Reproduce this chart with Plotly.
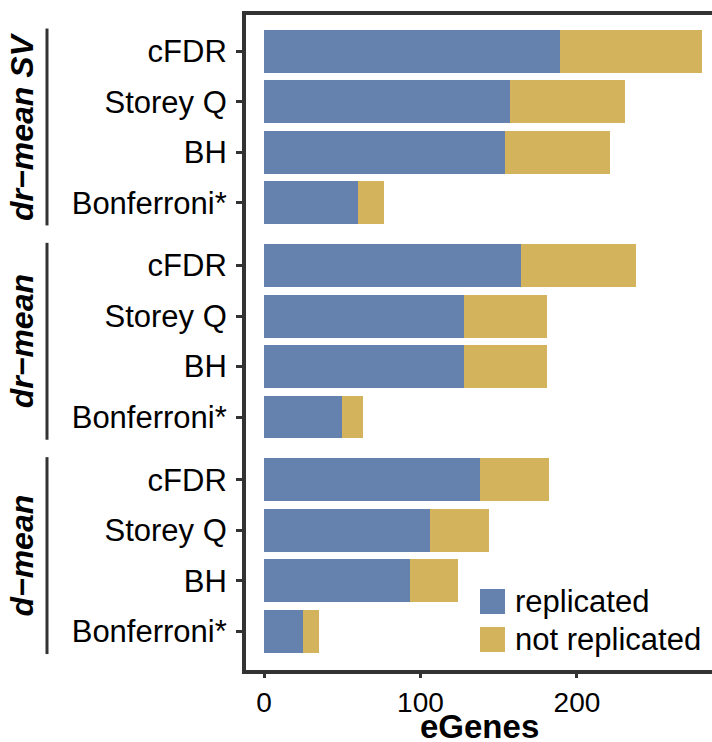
import plotly.graph_objects as go

# eGenes discovered per multiple-testing method, split by replication status
groups = ["dr\u2212mean SV", "dr\u2212mean", "d\u2212mean"]
methods = ["cFDR", "Storey Q", "BH", "Bonferroni*"]
replicated = [
    [189, 157, 154, 60],   # dr-mean SV
    [164, 128, 128, 50],   # dr-mean
    [138, 106, 93, 25],    # d-mean
]
not_replicated = [
    [91, 74, 67, 17],
    [74, 53, 53, 13],
    [44, 38, 31, 10],
]
series_names = ["replicated", "not replicated"]
series_colors = ["#6581AD", "#D3B45D"]
x_ticks = [0, 100, 200]
x_title = "eGenes"

# ---- layout constants ----
W, H = 712, 742
ML, MR, MT, MB = 246, 0, 15, 72
GROUP_GAP = 0.245          # extra space between facet blocks (in bar units)
BAR_WIDTH = 0.85
AXIS_COLOR = "#333333"
FONT = "Liberation Sans, Arial, Helvetica, sans-serif"
STRIP_FONT = "Liberation Sans Narrow, Arial Narrow, Liberation Sans, sans-serif"

n_m = len(methods)


def pos(g, m):
    return m + g * (n_m + GROUP_GAP)


def px_x(px):
    return (px - ML) / (W - ML - MR)


def px_y(py):
    return (H - MB - py) / (H - MT - MB)


ys, labels, rep_vals, nrep_vals = [], [], [], []
for g in range(len(groups)):
    for m in range(n_m):
        ys.append(pos(g, m))
        labels.append(methods[m])
        rep_vals.append(replicated[g][m])
        nrep_vals.append(not_replicated[g][m])

fig = go.Figure()
for name, vals, color in zip(series_names, [rep_vals, nrep_vals], series_colors):
    fig.add_trace(go.Bar(
        y=ys, x=vals, name=name, orientation="h", width=BAR_WIDTH,
        marker=dict(color=color, line=dict(width=0)), showlegend=False,
    ))

last = pos(len(groups) - 1, n_m - 1)
fig.update_layout(
    width=W, height=H, barmode="stack",
    margin=dict(l=ML, r=MR, t=MT, b=MB, pad=0, autoexpand=False),
    paper_bgcolor="white", plot_bgcolor="white",
    font=dict(family=FONT, color="#000000"),
    xaxis=dict(
        range=[-11.5, 286.3], tickvals=x_ticks, ticktext=[str(v) for v in x_ticks],
        showgrid=False, zeroline=False, automargin=False,
        showline=True, linewidth=4, linecolor=AXIS_COLOR, mirror=True,
        ticks="outside", ticklen=4, tickwidth=3, tickcolor=AXIS_COLOR,
        tickfont=dict(size=28, color="#000000"), ticklabelstandoff=0,
    ),
    yaxis=dict(
        range=[last + 0.766, -0.718], tickvals=ys, ticktext=labels,
        showgrid=False, zeroline=False, automargin=False,
        showline=True, linewidth=4, linecolor=AXIS_COLOR,
        ticks="outside", ticklen=6, tickwidth=3, tickcolor=AXIS_COLOR,
        tickfont=dict(size=31, color="#000000"), ticklabelstandoff=3,
    ),
)

# x-axis title, bold, centred under the panel
fig.add_annotation(xref="paper", yref="paper", x=0.5, y=px_y(H + 4),
                   text=x_title, showarrow=False, xanchor="center", yanchor="bottom",
                   borderpad=0,
                   font=dict(size=33, weight="bold", color="#000000"))

# facet strip labels with bracket lines on the left
for g, gname in enumerate(groups):
    top, bottom = pos(g, 0) - 0.45, pos(g, n_m - 1) + 0.45
    fig.add_shape(type="line", xref="paper", yref="y",
                  x0=px_x(47), x1=px_x(47), y0=top, y1=bottom,
                  line=dict(color=AXIS_COLOR, width=3))
    fig.add_annotation(xref="paper", yref="y", x=px_x(22), y=(top + bottom) / 2,
                       text=gname, textangle=-90, showarrow=False,
                       xanchor="center", yanchor="middle",
                       font=dict(family=STRIP_FONT, size=32, weight="bold",
                                 style="italic", color="#000000"))

# legend drawn inside the panel, lower right
for i, (name, color) in enumerate(zip(series_names, series_colors)):
    top_px = 589 + i * 38
    fig.add_shape(type="rect", xref="paper", yref="paper",
                  x0=px_x(480), x1=px_x(505), y0=px_y(top_px + 25), y1=px_y(top_px),
                  fillcolor=color, line=dict(width=0))
    fig.add_annotation(xref="paper", yref="paper", x=px_x(513), y=px_y(top_px + 12.5),
                       text=name, showarrow=False, xanchor="left", yanchor="middle",
                       font=dict(size=31, color="#000000"))

fig.write_html("out.html")
